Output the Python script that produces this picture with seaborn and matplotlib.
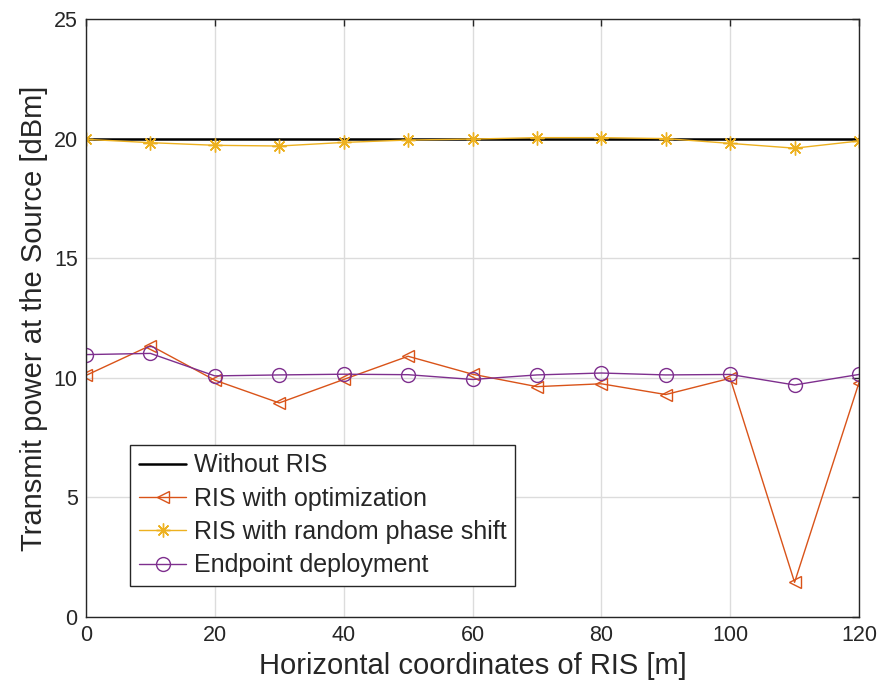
import matplotlib
matplotlib.use("Agg")
import matplotlib.pyplot as plt
import seaborn as sns
import numpy as np
import pandas as pd

x_coords = [0, 10, 20, 30, 40, 50, 60, 70, 80, 90, 100, 110, 120]
without_ris = [20, 20, 20, 20, 20, 20, 20, 20, 20, 20, 20, 20, 20]
ris_opt = [10.1, 11.35, 9.9, 8.95, 9.93, 10.9, 10.15, 9.63, 9.75, 9.3, 9.98, 1.45, 9.8]
ris_random = [19.97, 19.83, 19.72, 19.69, 19.84, 19.94, 19.98, 20.04, 20.04, 20.0, 19.8, 19.6, 19.9]
endpoint = [10.97, 11.02, 10.08, 10.12, 10.15, 10.13, 9.93, 10.12, 10.2, 10.12, 10.14, 9.7, 10.14]

labels = ["Without RIS", "RIS with optimization", "RIS with random phase shift", "Endpoint deployment"]
colors = ["#000000", "#D95319", "#EDB120", "#7E2F8E"]

sns.set_style("white")
plt.rcParams['font.family'] = ['Liberation Sans', 'DejaVu Sans']

fig = plt.figure(figsize=(8.77, 6.91), dpi=100)
ax = fig.add_axes([86/877, 1 - 617/691, (859-86)/877, (617-19)/691])

series = [without_ris, ris_opt, ris_random, endpoint]
markers = [None, '<', (8, 2, 0), 'o']
msizes = [0, 9, 10, 10]
lws = [1.8, 1.0, 1.0, 1.0]
for s, lab, c, m, ms, lw in zip(series, labels, colors, markers, msizes, lws):
    kw = dict(x=x_coords, y=s, ax=ax, color=c, label=lab, linewidth=lw)
    if m is not None:
        kw.update(marker=m, markersize=ms, markerfacecolor='none', markeredgecolor=c, markeredgewidth=1.0)
    sns.lineplot(**kw)

ax.set_xlim(0, 120)
ax.set_ylim(0, 25)
ax.set_xticks([0, 20, 40, 60, 80, 100, 120])
ax.set_yticks([0, 5, 10, 15, 20, 25])
ax.grid(True, color='#dcdcdc', linewidth=1.0)
ax.set_axisbelow(True)
for sp in ax.spines.values():
    sp.set_color('#262626')
    sp.set_linewidth(1.0)
ax.tick_params(direction='in', top=True, right=True, length=5, width=1.0, labelsize=15.5, colors='#262626', pad=6)
for t in ax.get_xticklabels() + ax.get_yticklabels():
    t.set_color('#262626')
ax.set_xlabel("Horizontal coordinates of RIS [m]", fontsize=21, color='#262626', labelpad=4)
ax.set_ylabel("Transmit power at the Source [dBm]", fontsize=21, color='#262626', labelpad=4)

leg = ax.legend(loc='lower left', bbox_to_anchor=(44/773, 31/598), fontsize=18,
                frameon=True, fancybox=False, edgecolor='#262626', framealpha=1,
                borderpad=0.35, labelspacing=0.37, handlelength=1.9, handletextpad=0.3, borderaxespad=0)
leg.get_frame().set_linewidth(1.0)

fig.savefig("out.png", dpi=100)
